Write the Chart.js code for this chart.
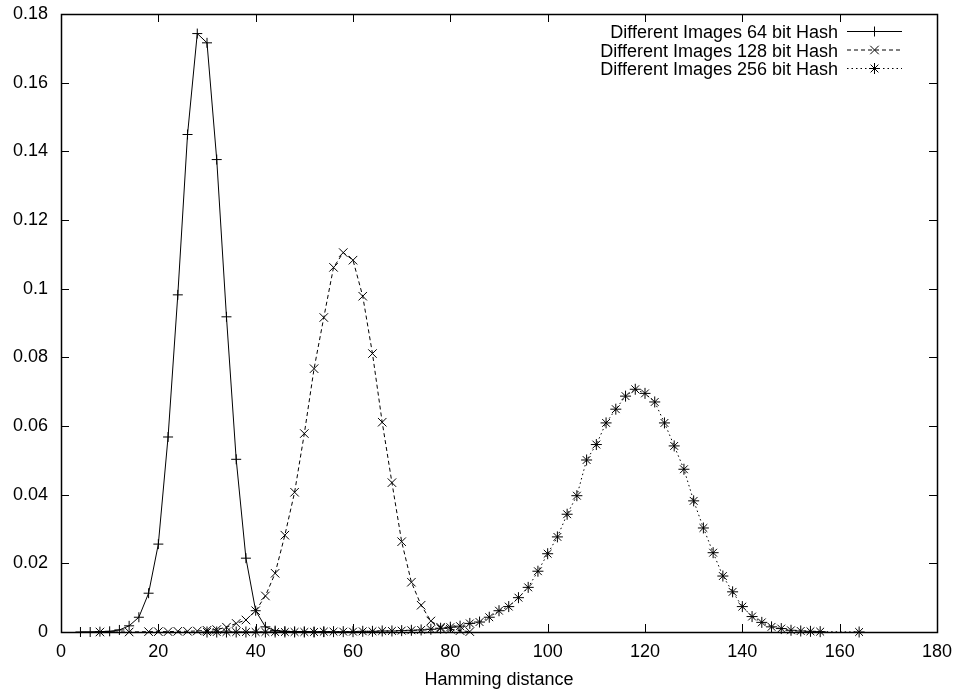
<!DOCTYPE html>
<html>
<head>
<meta charset="utf-8">
<script src="https://cdn.jsdelivr.net/npm/chart.js@4.4.1/dist/chart.umd.min.js"></script>
<style>
  html, body { margin: 0; padding: 0; background: #fff; }
</style>
</head>
<body>
<canvas id="grafica" width="959" height="697"></canvas>
<script>
// datos (distancia de Hamming vs frecuencia)
const x64 = [4, 6, 8, 10, 12, 14, 16, 18, 20, 22, 24, 26, 28, 30, 32, 34, 36, 38, 40, 42, 44, 46, 48, 50, 52, 54];
const y64 = [0, 0, 0.0001, 0.0002, 0.0006, 0.0018, 0.0043, 0.0113, 0.0256, 0.0568, 0.0982, 0.1449, 0.1743, 0.1716, 0.1376, 0.0918, 0.0503, 0.0215, 0.0062, 0.0015, 0.0004, 0.0002, 0.0001, 0.0001, 0, 0];

const x128 = [8, 14, 18, 20, 22, 24, 26, 28, 30, 32, 34, 36, 38, 40, 42, 44, 46, 48, 50, 52, 54, 56, 58, 60, 62, 64, 66, 68, 70, 72, 74, 76, 78, 80, 82, 84];
const y128 = [0, 0, 0.0001, 0.0001, 0.0001, 0.0002, 0.0002, 0.0003, 0.0005, 0.0007, 0.0014, 0.0025, 0.0035, 0.0062, 0.0105, 0.0171, 0.0282, 0.0407, 0.0578, 0.0767, 0.0916, 0.1062, 0.1105, 0.1083, 0.0978, 0.0811, 0.0611, 0.0435, 0.0263, 0.0145, 0.0078, 0.0032, 0.0014, 0.0008, 0.0004, 0.0001];

const x256 = [30, 32, 34, 36, 38, 40, 42, 44, 46, 48, 50, 52, 54, 56, 58, 60, 62, 64, 66, 68, 70, 72, 74, 76, 78, 80, 82, 84, 86, 88, 90, 92, 94, 96, 98, 100, 102, 104, 106, 108, 110, 112, 114, 116, 118, 120, 122, 124, 126, 128, 130, 132, 134, 136, 138, 140, 142, 144, 146, 148, 150, 152, 154, 156, 164];
const y256 = [0, 0, 0, 0, 0, 0, 0, 0, 0, 0, 0, 0, 0.0001, 0.0001, 0.0001, 0.0001, 0.0002, 0.0002, 0.0003, 0.0003, 0.0004, 0.0005, 0.0006, 0.0008, 0.0011, 0.0014, 0.0017, 0.0025, 0.0029, 0.0043, 0.0062, 0.0074, 0.0100, 0.0130, 0.0177, 0.0228, 0.0277, 0.0343, 0.0397, 0.0501, 0.0546, 0.0609, 0.0649, 0.0687, 0.0707, 0.0695, 0.0670, 0.0609, 0.0542, 0.0474, 0.0382, 0.0303, 0.0231, 0.0163, 0.0117, 0.0074, 0.0045, 0.0028, 0.0015, 0.0010, 0.0005, 0.0003, 0.0002, 0.0001, 0];

const nombresSeries = ['Different Images 64 bit Hash', 'Different Images 128 bit Hash', 'Different Images 256 bit Hash'];
const xTickLabels = ['0', '20', '40', '60', '80', '100', '120', '140', '160', '180'];
const yTickLabels = ['0', '0.02', '0.04', '0.06', '0.08', '0.1', '0.12', '0.14', '0.16', '0.18'];

const FUENTE = "'Liberation Sans', Arial, Helvetica, sans-serif";

function aPuntos(xs, ys) {
    return xs.map((x, i) => ({ x: x, y: ys[i] }));
}

const estilos = [
    { dash: [], punto: 'cross', radio: 5 },
    { dash: [4, 3], punto: 'crossRot', radio: 6 },
    { dash: [1.5, 3], punto: 'star', radio: 5.5 }
];

// marcas tipo gnuplot: tics hacia dentro y marco completo
const marcoGnuplot = {
    id: 'marcoGnuplot',
    afterDatasetsDraw(chart) {
        const { ctx, chartArea: a, scales } = chart;
        const largo = 8;
        ctx.save();
        ctx.strokeStyle = '#000';
        ctx.lineWidth = 1;
        ctx.beginPath();
        scales.x.ticks.forEach(t => {
            const px = Math.round(scales.x.getPixelForValue(t.value)) + 0.5;
            ctx.moveTo(px, a.bottom); ctx.lineTo(px, a.bottom - largo);
            ctx.moveTo(px, a.top); ctx.lineTo(px, a.top + largo);
        });
        scales.y.ticks.forEach(t => {
            const py = Math.round(scales.y.getPixelForValue(t.value)) + 0.5;
            ctx.moveTo(a.left, py); ctx.lineTo(a.left + largo, py);
            ctx.moveTo(a.right, py); ctx.lineTo(a.right - largo, py);
        });
        ctx.stroke();
        ctx.lineWidth = 1.5;
        ctx.strokeRect(Math.round(a.left) + 0.5, Math.round(a.top) + 0.5, Math.round(a.right - a.left), Math.round(a.bottom - a.top));
        ctx.restore();
    }
};

function marcador(ctx, tipo, x, y, r) {
    ctx.beginPath();
    if (tipo === 'cross' || tipo === 'star') {
        ctx.moveTo(x - r, y); ctx.lineTo(x + r, y);
        ctx.moveTo(x, y - r); ctx.lineTo(x, y + r);
    }
    if (tipo === 'crossRot' || tipo === 'star') {
        const d = r * 0.707;
        ctx.moveTo(x - d, y - d); ctx.lineTo(x + d, y + d);
        ctx.moveTo(x - d, y + d); ctx.lineTo(x + d, y - d);
    }
    ctx.stroke();
}

// leyenda a la derecha, texto alineado a la derecha como gnuplot
const leyendaGnuplot = {
    id: 'leyendaGnuplot',
    afterDraw(chart) {
        const ctx = chart.ctx;
        const xTexto = 838, xIni = 847, xFin = 902;
        const filas = [38, 56.5, 75];
        ctx.save();
        ctx.font = '18px ' + FUENTE;
        ctx.fillStyle = '#000';
        ctx.strokeStyle = '#000';
        ctx.lineWidth = 1;
        ctx.textAlign = 'right';
        ctx.textBaseline = 'alphabetic';
        nombresSeries.forEach((nombre, i) => {
            const base = filas[i];
            ctx.fillText(nombre, xTexto, base);
            const ym = base - 6.5;
            ctx.setLineDash(estilos[i].dash);
            ctx.beginPath();
            ctx.moveTo(xIni, ym); ctx.lineTo(xFin, ym);
            ctx.stroke();
            ctx.setLineDash([]);
            marcador(ctx, estilos[i].punto, (xIni + xFin) / 2, ym, estilos[i].radio);
        });
        ctx.restore();
    }
};

const series = [aPuntos(x64, y64), aPuntos(x128, y128), aPuntos(x256, y256)];

const ctx = document.getElementById('grafica');

new Chart(ctx, {
    type: 'line',
    data: {
        datasets: series.map((datos, i) => ({
            label: nombresSeries[i],
            data: datos,
            borderColor: '#000',
            backgroundColor: 'rgba(0,0,0,0)',
            borderWidth: 1,
            borderDash: estilos[i].dash,
            tension: 0,
            pointStyle: estilos[i].punto,
            pointRadius: estilos[i].radio,
            pointBorderColor: '#000',
            pointBorderWidth: 1,
            pointHoverRadius: estilos[i].radio,
            clip: false
        }))
    },
    options: {
        responsive: false,
        animation: false,
        events: [],
        layout: { padding: { top: 14, right: 22, left: 0, bottom: 0 } },
        plugins: {
            legend: { display: false },
            tooltip: { enabled: false }
        },
        scales: {
            x: {
                type: 'linear',
                min: 0,
                max: 180,
                grid: { display: false, drawTicks: false },
                border: { display: false },
                ticks: {
                    stepSize: 20,
                    padding: 9,
                    color: '#000',
                    font: { family: FUENTE, size: 18 },
                    maxRotation: 0,
                    callback: (v) => xTickLabels[Math.round(v / 20)]
                },
                title: {
                    display: true,
                    text: 'Hamming distance',
                    color: '#000',
                    font: { family: FUENTE, size: 18 },
                    padding: { top: 0, bottom: 6 }
                },
                afterFit: (scale) => {
                    scale.height = 65;
                    scale.paddingLeft = 0;
                    scale.paddingRight = 0;
                }
            },
            y: {
                min: 0,
                max: 0.18,
                grid: { display: false, drawTicks: false },
                border: { display: false },
                ticks: {
                    stepSize: 0.02,
                    padding: 13,
                    color: '#000',
                    font: { family: FUENTE, size: 18 },
                    callback: (v) => yTickLabels[Math.round(v / 0.02)]
                },
                afterFit: (scale) => {
                    scale.width = 61;
                    scale.paddingTop = 0;
                    scale.paddingBottom = 0;
                }
            }
        }
    },
    plugins: [marcoGnuplot, leyendaGnuplot]
});
</script>
</body>
</html>
